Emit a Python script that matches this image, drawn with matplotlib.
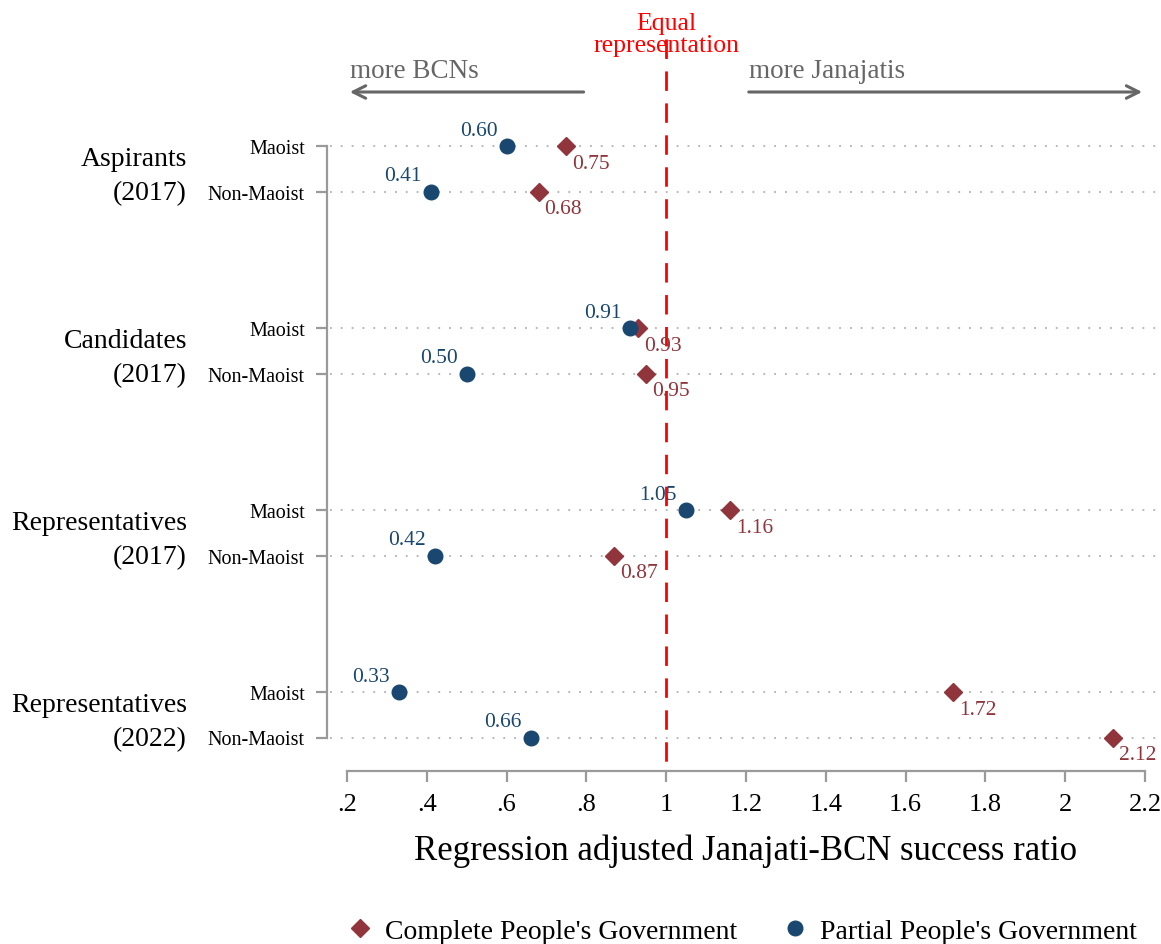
import matplotlib
matplotlib.use("Agg")
import matplotlib.pyplot as plt
from matplotlib.lines import Line2D
from matplotlib.transforms import blended_transform_factory

plt.rcParams['font.family'] = ['Liberation Serif', 'DejaVu Serif']

# ---- data ----
group_names = ["Aspirants", "Candidates", "Representatives", "Representatives"]
group_years = ["(2017)", "(2017)", "(2017)", "(2022)"]
parties = ["Maoist", "Non-Maoist"]
complete_pg = [0.75, 0.68, 0.93, 0.95, 1.16, 0.87, 1.72, 2.12]
partial_pg = [0.60, 0.41, 0.91, 0.50, 1.05, 0.42, 0.33, 0.66]
xticks = [0.2, 0.4, 0.6, 0.8, 1.0, 1.2, 1.4, 1.6, 1.8, 2.0, 2.2]
xtick_labels = [".2", ".4", ".6", ".8", "1", "1.2", "1.4", "1.6", "1.8", "2", "2.2"]

RED = "#90353b"
BLUE = "#1a476f"
GRAY = "#9a9a9a"
ARROW_GRAY = "#666666"

W, H = 1161, 945
fig = plt.figure(figsize=(W / 100, H / 100), dpi=100)

# plotting area in pixels
ax_left_px, ax_right_px = 327, 1161
ax_top_px, ax_bot_px = 0, 772
ax = fig.add_axes([ax_left_px / W, 1 - ax_bot_px / H,
                   (ax_right_px - ax_left_px) / W, (ax_bot_px - ax_top_px) / H])

px_per_unit = 399.0
x0_px = 347
ax.set_xlim(0.2 - (x0_px - ax_left_px) / px_per_unit, 0.2 + (ax_right_px - x0_px) / px_per_unit)

row_px = 45.5
first_row_px = 147
ax.set_ylim((ax_bot_px - first_row_px) / row_px, (ax_top_px - first_row_px) / row_px)


def py(pixel_y):
    """Convert a pixel row to the row coordinate used on the y axis."""
    return (pixel_y - first_row_px) / row_px


# row positions: two rows per group, wider gap between groups
ypos = []
for g in range(len(group_names)):
    ypos += [g * 4, g * 4 + 1]

# dotted guide lines
for y in ypos:
    ax.plot([ax.get_xlim()[0] + 0.008, ax.get_xlim()[1]], [y, y], linestyle=(0, (1, 5)),
            color="#b0b0b0", lw=1.3, zorder=1, clip_on=False)

# reference line at 1
ax.plot([1, 1], [py(40), ax.get_ylim()[0]], color="red", lw=2, linestyle=(0, (7, 4.5)),
        zorder=5, clip_on=False)
ax.text(1, py(24), "Equal", color="red", ha="center", va="center", fontsize=18.5)
ax.text(1, py(46), "representation", color="red", ha="center", va="center", fontsize=18.5)

# direction arrows
ax.annotate("", xy=(0.2, py(93)), xytext=(0.8, py(93)),
            arrowprops=dict(arrowstyle="->,head_length=0.9,head_width=0.45", color=ARROW_GRAY, lw=2.2))
ax.annotate("", xy=(2.2, py(93)), xytext=(1.2, py(93)),
            arrowprops=dict(arrowstyle="->,head_length=0.9,head_width=0.45", color=ARROW_GRAY, lw=2.2))
ax.text(0.208, py(71), "more BCNs", color=ARROW_GRAY, ha="left", va="center", fontsize=19.5)
ax.text(1.207, py(71), "more Janajatis", color=ARROW_GRAY, ha="left", va="center", fontsize=19.5)

# markers
ax.plot(complete_pg, ypos, linestyle="none", marker="D", markersize=9.5, color=RED, zorder=4)
ax.plot(partial_pg, ypos, linestyle="none", marker="o", markersize=10.5, color=BLUE, zorder=4)

for x, y in zip(complete_pg, ypos):
    ax.annotate(f"{x:.2f}", (x, y), xytext=(17.5, -12.5), textcoords="offset points",
                ha="center", va="center", color=RED, fontsize=15.5, zorder=6)
for x, y in zip(partial_pg, ypos):
    ax.annotate(f"{x:.2f}", (x, y), xytext=(-20, 11.5), textcoords="offset points",
                ha="center", va="center", color=BLUE, fontsize=15.5, zorder=6)

# axes styling
for s in ["top", "right"]:
    ax.spines[s].set_visible(False)
ax.spines["left"].set_color(GRAY)
ax.spines["left"].set_linewidth(1.6)
ax.spines["left"].set_bounds(ypos[0], ypos[-1])
ax.spines["bottom"].set_color(GRAY)
ax.spines["bottom"].set_linewidth(1.6)
ax.spines["bottom"].set_bounds(0.2, 2.2)

ax.set_yticks(ypos)
ax.set_yticklabels(parties * len(group_names), fontsize=14.5)
ax.tick_params(axis="y", length=8, width=1.6, color=GRAY, pad=8)
ax.set_xticks(xticks)
ax.set_xticklabels(xtick_labels, fontsize=19)
ax.tick_params(axis="x", length=8, width=1.6, color=GRAY, pad=8)

ax.set_xlabel("Regression adjusted Janajati-BCN success ratio", fontsize=25)
ax.xaxis.set_label_coords((746 - ax_left_px) / (ax_right_px - ax_left_px),
                          (ax_bot_px - 835) / (ax_bot_px - ax_top_px))

# group labels on the left
fig_data = blended_transform_factory(fig.transFigure, ax.transData)
for g, (name, year) in enumerate(zip(group_names, group_years)):
    ax.text(187 / W, g * 4 + py(160), name, transform=fig_data,
            ha="right", va="center", fontsize=20)
    ax.text(187 / W, g * 4 + py(194), year, transform=fig_data,
            ha="right", va="center", fontsize=20)

# legend
handles = [Line2D([], [], linestyle="none", marker="D", markersize=9.5, color=RED),
           Line2D([], [], linestyle="none", marker="o", markersize=10.5, color=BLUE)]
fig.legend(handles, ["Complete People's Government", "Partial People's Government"],
           loc="center", bbox_to_anchor=(740 / W, 1 - 932 / H), ncol=2, frameon=False,
           fontsize=20, handletextpad=0.3, columnspacing=1.5, handlelength=1.2)

fig.savefig("out.png", dpi=100)
